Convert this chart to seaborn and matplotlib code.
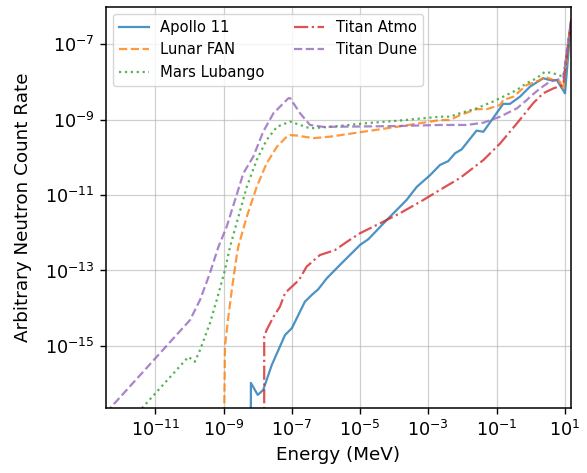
import numpy as np
import pandas as pd
import matplotlib
matplotlib.use("Agg")
import matplotlib.pyplot as plt
import seaborn as sns

# ---- data (log10 values) ----
series_names = ["Apollo 11", "Lunar FAN", "Mars Lubango", "Titan Atmo", "Titan Dune"]

apollo_log_e = [-8.21, -8.20, -8.00, -7.84, -7.59, -7.20, -7.00, -6.62, -6.42, -6.23,
                -5.98, -5.59, -5.00, -4.76, -4.22, -3.64, -3.34, -2.95, -2.66, -2.42,
                -2.22, -2.03, -1.59, -1.39, -0.81, -0.61, -0.32, -0.02, 0.36, 0.56,
                0.76, 1.00, 1.18]
apollo_log_rate = [-20.0, -15.98, -16.30, -16.17, -15.51, -14.71, -14.53, -13.83, -13.65, -13.50,
                   -13.21, -12.85, -12.32, -12.17, -11.66, -11.13, -10.78, -10.47, -10.20, -10.10,
                   -9.89, -9.79, -9.29, -9.32, -8.58, -8.58, -8.39, -8.12, -7.90, -7.95,
                   -7.95, -8.30, -6.36]

lunar_log_e = [-9.02, -8.96, -8.86, -8.76, -8.62, -8.57, -8.32, -8.03, -7.74, -7.44,
               -7.15, -7.05, -6.86, -6.37, -5.88, -4.91, -3.93, -2.66, -2.37, -2.08,
               -1.59, -1.29, -0.90, -0.81, -0.51, -0.12, 0.27, 0.41, 0.66, 0.85,
               0.95, 1.18]
lunar_log_rate = [-20.0, -15.02, -14.23, -13.52, -12.63, -12.37, -11.57, -10.78, -10.16, -9.72,
                  -9.45, -9.41, -9.42, -9.49, -9.45, -9.32, -9.19, -9.01, -9.01, -8.88,
                  -8.72, -8.72, -8.61, -8.48, -8.39, -8.08, -7.95, -7.86, -7.95, -7.99,
                  -8.21, -6.36]

mars_log_e = [-11.51, -11.35, -10.03, -9.84, -9.69, -9.40, -9.20, -8.96, -8.81, -8.62,
              -8.32, -8.03, -7.74, -7.44, -7.05, -6.47, -5.88, -4.91, -3.93, -2.66,
              -2.37, -2.08, -1.59, -1.11, -0.81, -0.41, -0.12, 0.17, 0.41, 0.66,
              0.95, 1.18]
mars_log_rate = [-16.77, -16.61, -15.29, -15.42, -15.11, -14.40, -13.78, -12.99, -12.37, -11.75,
                 -10.78, -10.07, -9.54, -9.19, -9.05, -9.23, -9.19, -9.10, -9.03, -8.92,
                 -8.92, -8.83, -8.70, -8.52, -8.39, -8.21, -8.03, -7.90, -7.73, -7.77,
                 -7.86, -6.36]

atmo_log_e = [-7.81, -7.81, -7.74, -7.54, -7.35, -7.20, -7.05, -6.79, -6.57, -6.18,
              -5.74, -5.39, -5.00, -4.42, -3.83, -3.15, -2.66, -2.08, -1.39, -0.90,
              -0.41, 0.07, 0.36, 0.66, 0.95, 1.18]
atmo_log_rate = [-20.0, -14.76, -14.58, -14.23, -13.96, -13.60, -13.47, -13.25, -12.90, -12.59,
                 -12.46, -12.24, -12.01, -11.75, -11.48, -11.13, -10.86, -10.55, -10.07, -9.63,
                 -9.10, -8.56, -8.30, -8.17, -8.08, -6.36]

dune_log_e = [-12.44, -12.28, -9.98, -9.69, -9.40, -9.15, -8.91, -8.62, -8.42, -8.13,
              -7.84, -7.54, -7.10, -7.05, -6.76, -6.47, -6.08, -5.00, -4.00, -2.66,
              -1.88, -1.39, -0.90, -0.41, -0.12, -0.02, 0.27, 0.56, 0.95, 1.18]
dune_log_rate = [-16.78, -16.61, -14.31, -13.78, -13.07, -12.37, -11.84, -11.00, -10.42, -9.98,
                 -9.32, -8.83, -8.43, -8.43, -8.83, -9.14, -9.19, -9.18, -9.17, -9.14,
                 -9.14, -9.08, -8.92, -8.70, -8.48, -8.39, -8.17, -7.99, -7.90, -6.36]

x_tick_exponents = [-11, -9, -7, -5, -3, -1, 1]
y_tick_exponents = [-15, -13, -11, -9, -7]

# ---- plotting ----
fig = plt.figure(figsize=(5.87, 4.73), dpi=100)
ax = fig.add_axes([106 / 587, 1 - 408.3 / 473, (571 - 106) / 587, (408.3 - 6.7) / 473])

data = [
    (apollo_log_e, apollo_log_rate, "-"),
    (lunar_log_e, lunar_log_rate, "--"),
    (mars_log_e, mars_log_rate, ":"),
    (atmo_log_e, atmo_log_rate, "-."),
    (dune_log_e, dune_log_rate, "--"),
]
colors = ["#1f77b4", "#ff7f0e", "#2ca02c", "#d62728", "#9467bd"]

ax.set_xscale("log")
ax.set_yscale("log")
for (le, lr, ls), name, c in zip(data, series_names, colors):
    df = pd.DataFrame({"E": 10.0 ** np.array(le), "R": 10.0 ** np.array(lr)})
    sns.lineplot(data=df, x="E", y="R", ax=ax, color=c, linestyle=ls, label=name,
                 alpha=0.8, linewidth=1.6, sort=False, estimator=None)

ax.set_xlim(10 ** -12.444, 10 ** 1.176)
ax.set_ylim(10 ** -16.655, 10 ** -6.003)
ax.set_xticks([10.0 ** e for e in x_tick_exponents])
ax.set_yticks([10.0 ** e for e in y_tick_exponents])
ax.minorticks_off()
ax.tick_params(labelsize=12.7, length=4.5, width=1.0, pad=3.7)
for s in ax.spines.values():
    s.set_linewidth(1.1)
ax.grid(True, color="#b0b0b0", alpha=0.6, linewidth=0.9)
ax.set_xlabel("Energy (MeV)", fontsize=13.2, labelpad=4.5)
ax.set_ylabel("Arbitrary Neutron Count Rate", fontsize=13.2, labelpad=9)
ax.legend(loc="upper left", ncol=2, fontsize=10.6)

fig.savefig("out.png", dpi=100)
